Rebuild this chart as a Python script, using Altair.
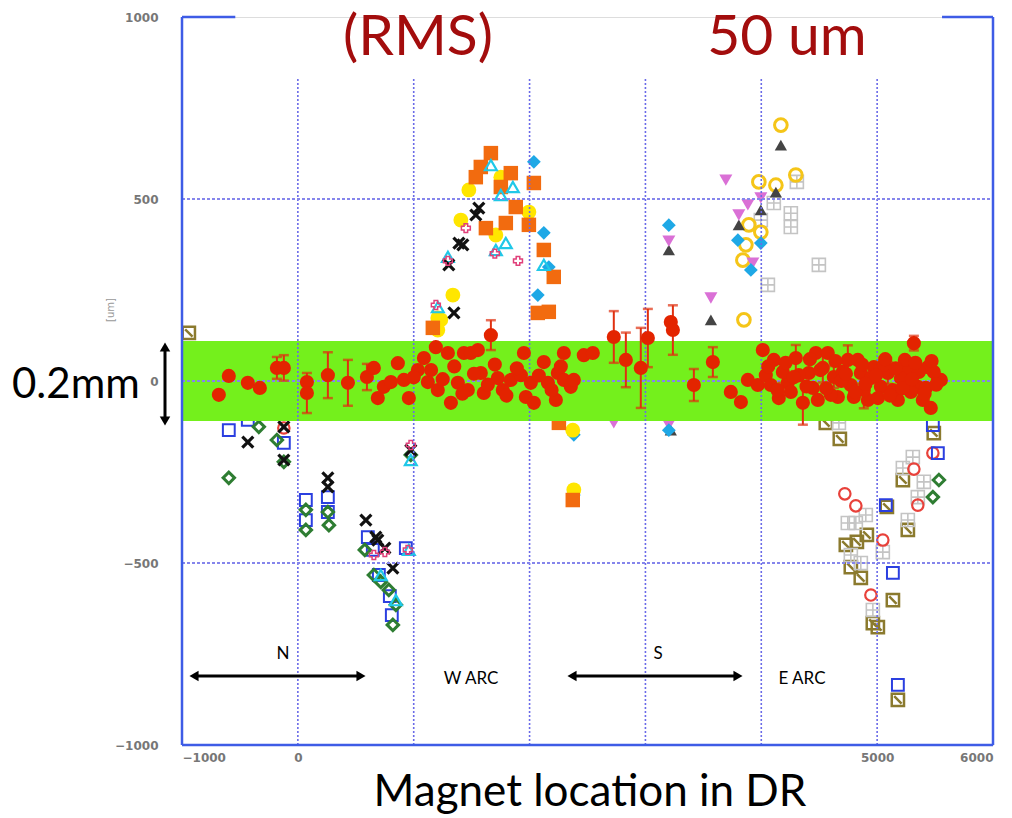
import altair as alt
import pandas as pd

# ---------------- data ----------------
# main series (red filled circles) with error bars
red_x = [-682, -596, -432, -328, -181, -121, 78, 78, 259, 432, 596, 656, 690, 742, 803, 863, 915, 958,
         1036, 1088, 1122, 1191, 1295, 1208, 1321, 1381, 1433, 1467, 1493, 1554, 1666, 1579, 1605, 1726,
         1769, 1838, 1925, 1951, 1968, 2011, 2037, 2123, 2158, 2227, 2244, 2296, 2296, 2356, 2382, 2468,
         2546, 2727, 2831, 2960, 3021, 3219, 3237, 3418, 3582, 3737, 3824, 3884,
         4013, 4108, 4151, 4229, 4298, 4359, 4410, 4471, 4488, 4574, 4626, 4661, 4747, 4799, 4859, 4920,
         4971, 5032, 5092, 5179, 5265, 5317, 5351, 5394, 5438, 5463, 5524, 5550,
         3970, 4039, 4082, 4186, 4255, 4324, 4445, 4531, 4600, 4703, 4772, 4833, 4885, 4946, 5006, 5058,
         5136, 5205, 5239, 5291, 5360, 5420, 5489,
         4060, 4140, 4210, 4280, 4390, 4420, 4510, 4560, 4640, 4690, 4730, 4810, 4870, 4900, 4990, 5070,
         5110, 5160, 5220, 5300, 5330, 5410, 5470, 5510,
         1000, 1150, 1250, 1350, 1420, 1520, 1640, 1700, 1800, 1890, 2080, 2190, 2270]
red_y = [-38, 14, -5, -19, 36, 36, -3, -33, 16, -5, 11, 36, -47, -16, -3, 49, 3, -47,
         30, 63, -3, 93, 77, -25, -60, -5, 77, -25, 77, 85, 126, 22, -33, 8,
         -25, 3, 16, 77, -44, -5, -60, 52, -5, -52, 22, 77, 3, -16, 3, 71,
         77, 121, 58, 36, 118, 162, 140, -11, 52, -30, -58, 3,
         85, 58, -47, -5, 63, -60, 22, 77, -52, 77, 11, -44, 58, -44, 22, -52,
         38, -16, 22, -52, 30, 104, -16, -52, 38, -74, 3, 3,
         -11, 16, -11, 25, -30, 16, -19, 36, -38, 25, -11, 58, -25, 8, -47, 44,
         -25, 8, 58, -30, 25, -19, 25,
         40, -25, 50, 10, -15, 60, 30, -20, 55, 0, 20, -30, 45, -8, 15, 60,
         -40, 35, -20, 5, 50, -35, 55, -10,
         10, 30, 5, 40, -35, 20, -10, 45, -40, 35, 15, -25, 40]
red_err = [0, 0, 0, 0, 30, 35, 0, 55, 63, 63, 36, 0, 0, 0, 0, 0, 0, 0,
           0, 0, 0, 0, 0, 0, 0, 0, 0, 0, 0, 0, 41, 0, 0, 0,
           0, 0, 0, 0, 0, 0, 0, 0, 0, 0, 0, 0, 0, 0, 0, 0,
           0, 71, 75, 110, 80, 0, 68, 44, 41, 0, 0, 0,
           0, 0, 0, 0, 36, 60, 0, 0, 0, 0, 30, 0, 40, 0, 30, 0,
           0, 0, 30, 0, 0, 20, 0, 0, 0, 0, 0, 0,
           0, 0, 0, 30, 0, 0, 0, 40, 0, 0, 0, 0, 50, 0, 0, 0,
           0, 0, 0, 0, 0, 0, 0,
           0, 0, 0, 0, 0, 0, 0, 0, 0, 0, 0, 0, 0, 0, 0, 0,
           0, 0, 0, 0, 0, 0, 0, 0,
           0, 0, 0, 0, 0, 0, 0, 0, 0, 0, 0, 0, 0]

olive_x = [-941, 4557, 4678, 4730, 4825, 4911, 4773, 4859, 4963, 5006, 5084, 5222, 5265, 5136, 5179, 5489]
olive_y = [132, -115, -159, -450, -442, -423, -511, -541, -665, -676, -346, -272, -409, -602, -876, -143]

grey_x = [4307, 4255, 4255, 3996, 4108, 4057, 4497, 5308, 5222, 5403, 5351, 5265, 4902, 4747, 4816, 4773, 4859, 5049, 4963, 4670]
grey_y = [547, 461, 423, 442, 489, 264, 319, -209, -239, -277, -319, -382, -368, -390, -390, -478, -500, -470, -629, -115]

redring_x = [4721, 4816, 5049, 4946, 5317, 5351, 5481, -121]
redring_y = [-310, -343, -437, -588, -242, -341, -198, -129]

bluesq_x = [-596, -432, -121, 69, 69, 259, 259, 604, 647, 699, 794, 811, 932, 5075, 5136, 5179, 5481, 5524]
bluesq_y = [-135, -107, -170, -382, -327, -319, -360, -429, -464, -533, -591, -643, -459, -341, -527, -835, -121, -198]

green_x = [-596, -337, -181, -121, 69, 69, 259, 268, 578, 656, 716, 785, 820, 846, 975, 5533, 5481]
green_y = [-266, -126, -162, -222, -354, -409, -360, -396, -464, -533, -552, -574, -670, -615, -203, -272, -319]

xblack_x = [-432, -121, -121, 259, 259, 587, 673, 690, 751, 820, 975, 1347, 1303, 1390, 1424, 1536, 1562]
xblack_y = [-168, -126, -217, -266, -291, -382, -429, -437, -459, -514, -190, 187, 319, 379, 374, 456, 475]

yellow_x = [1208, 1338, 1407, 1476, 1709, 1752, 1208, 2382, 2373, 1994, 1234]
yellow_y = [173, 236, 442, 525, 401, 560, 140, -299, -135, 464, 168]

orange_x = [1666, 1579, 1536, 1838, 1752, 2037, 1994, 1881, 1795, 1623, 2123, 2209, 2071, 2166, 1165, 2373, 2253]
orange_y = [626, 588, 560, 571, 533, 544, 429, 478, 434, 420, 360, 286, 187, 190, 146, -327, -115]

cyandia_x = [2037, 2123, 2166, 2071, 2382, 2382, 3202, 3798, 3910, 3996, 3202]
cyandia_y = [602, 407, 313, 236, -148, -313, 428, 387, 305, 379, -135]

cyantri_x = [1666, 1856, 1752, 1709, 1795, 2123, 1208, 1295, 846, 716, 958, 975]
cyantri_y = [593, 533, 511, 360, 379, 319, 203, 341, -602, -533, -464, -217]

violet_x = [3202, 3694, 3565, 3927, 3806, 2727, 3202, 3884, 3996]
violet_y = [384, 552, 228, 324, 456, -115, -121, 484, 503]

darktri_x = [3202, 4169, 3565, 3806, 4126, 3219, 3996]
darktri_y = [360, 648, 168, 429, 519, -135, 470]

goldring_x = [4169, 3867, 3841, 3893, 3996, 4126, 3979, 4298, 3850]
goldring_y = [703, 374, 332, 429, 409, 538, 547, 566, 168]

pink_x = [656, 751, 949, 975, 1191, 1295, 1450, 1700, 1900]
pink_y = [-478, -470, -464, -176, 209, 330, 420, 350, 330]

grid_x = [0, 1000, 2000, 3000, 4000, 5000]
grid_y = [-500, 0, 500]
x_tick_values = [-1000, 0, 5000, 6000]
y_tick_values = [-1000, -500, 0, 500, 1000]
band_lo, band_hi = -110, 110

XS = alt.Scale(domain=[-1000, 6000], nice=False, zero=False)
YS = alt.Scale(domain=[-1000, 1000], nice=False, zero=False)

PATH_X = "M-1,-1L1,1M1,-1L-1,1"
PATH_GRID = "M-1,-1H1V1H-1Z M0,-1V1 M-1,0H1"
PATH_HATCH = "M-1,-1H1V1H-1Z M-0.6,-0.6L0.6,0.6"


def xenc(field="x"):
    return alt.X(f"{field}:Q", scale=XS, title=None)


def yenc(field="y"):
    return alt.Y(f"{field}:Q", scale=YS, title=None)


def pts(xs, ys, shape, filled, color, size, sw=1.5, opacity=1):
    df = pd.DataFrame({"x": xs, "y": ys})
    return alt.Chart(df).mark_point(shape=shape, filled=filled, color=color, size=size,
                                    strokeWidth=sw, opacity=opacity).encode(x=xenc(), y=yenc())


# axes carrier (invisible)
axis_df = pd.DataFrame({"x": [-1000, 6000], "y": [-1000, 1000]})
lab = dict(ticks=False, domain=False, grid=False, labelColor="#777777", labelFontSize=12,
           labelFont="DejaVu Sans", labelFontWeight="bold", format="d", title=None)
axes = alt.Chart(axis_df).mark_point(opacity=0).encode(
    x=alt.X("x:Q", scale=XS, axis=alt.Axis(values=x_tick_values, labelPadding=7, **lab)),
    y=alt.Y("y:Q", scale=YS, axis=alt.Axis(values=y_tick_values, labelPadding=24, **lab)),
)

layers = [axes]
layers.append(pts(olive_x, olive_y, PATH_HATCH, False, "#8B7A2E", 150, 2.5))
layers.append(pts(grey_x, grey_y, PATH_GRID, False, "#C4C4C4", 170, 1.6))
layers.append(pts(redring_x, redring_y, "circle", False, "#E8413A", 130, 2.2))
layers.append(pts(bluesq_x, bluesq_y, "square", False, "#2B3FE0", 140, 2))
layers.append(pts(green_x, green_y, "diamond", False, "#2E7D32", 130, 3))
layers.append(pts(goldring_x, goldring_y, "circle", False, "#F5C518", 160, 3))
layers.append(pts(darktri_x, darktri_y, "triangle-up", True, "#444444", 150))
layers.append(pts(violet_x, violet_y, "triangle-down", True, "#DA70D6", 170))
layers.append(pts(cyandia_x, cyandia_y, "diamond", True, "#1EA8E6", 190))
layers.append(pts(yellow_x, yellow_y, "circle", True, "#FFE600", 220))
layers.append(pts(orange_x, orange_y, "square", True, "#F26B0F", 210))
layers.append(pts(cyantri_x, cyantri_y, "triangle-up", False, "#20C8E8", 140, 2.2))
layers.append(pts(xblack_x, xblack_y, PATH_X, False, "#111111", 120, 3.2))
layers.append(pts(pink_x, pink_y, "cross", False, "#E0407A", 80, 1.5))

# green band
band_df = pd.DataFrame({"x": [-1000], "x2": [6000], "y": [band_lo], "y2": [band_hi]})
layers.append(alt.Chart(band_df).mark_rect(color="#74F01C").encode(
    x=xenc(), x2="x2:Q", y=yenc(), y2="y2:Q"))

# grid lines
gx_df = pd.DataFrame({"x": grid_x, "y": [-1000] * len(grid_x), "y2": [830] * len(grid_x)})
layers.append(alt.Chart(gx_df).mark_rule(color="#6A6AE8", strokeWidth=1.6, strokeDash=[2, 2]).encode(
    x=xenc(), y=yenc(), y2="y2:Q"))
gy_df = pd.DataFrame({"y": grid_y, "x": [-1000] * len(grid_y), "x2": [6000] * len(grid_y)})
layers.append(alt.Chart(gy_df).mark_rule(color="#8585EC", strokeWidth=2.2, strokeDash=[3, 2]).encode(
    y=yenc(), x=xenc(), x2="x2:Q"))

# red error bars
red_df = pd.DataFrame({"x": red_x, "y": red_y, "err": red_err})
eb = alt.Chart(red_df).transform_filter("datum.err > 0").transform_calculate(
    lo="datum.y - datum.err", hi="datum.y + datum.err")
layers.append(eb.mark_rule(color="#E03010", strokeWidth=2).encode(
    x=xenc(), y=yenc("lo"), y2="hi:Q"))
layers.append(eb.mark_tick(color="#E03010", thickness=2.5, size=10, orient="horizontal").encode(
    x=xenc(), y=yenc("lo")))
layers.append(eb.mark_tick(color="#E03010", thickness=2.5, size=10, orient="horizontal").encode(
    x=xenc(), y=yenc("hi")))
layers.append(alt.Chart(red_df).mark_point(shape="circle", filled=True, color="#E32400", size=200,
                                           opacity=1).encode(x=xenc(), y=yenc()))

# frame
frame_blue = "#3E5CE6"
fv = pd.DataFrame({"x": [-1000, 6000], "y": [-1000, -1000], "y2": [1000, 1000]})
layers.append(alt.Chart(fv).mark_rule(color=frame_blue, strokeWidth=2.5).encode(x=xenc(), y=yenc(), y2="y2:Q"))
fh = pd.DataFrame({"x": [-1000, -1000, 5560], "x2": [6000, -540, 6000], "y": [-1000, 1000, 1000]})
layers.append(alt.Chart(fh).mark_rule(color=frame_blue, strokeWidth=2.5).encode(x=xenc(), x2="x2:Q", y=yenc()))


def txt(s, px, py, size, color="black", align="center", font="Lato", angle=0):
    return alt.Chart(pd.DataFrame({"t": [s]})).mark_text(
        fontSize=size, color=color, align=align, baseline="alphabetic", font=font, angle=angle).encode(
        text="t:N", x=alt.value(px), y=alt.value(py))


dark_red = "#A30D0D"
layers.append(txt("(RMS)", 236, 38, 57, dark_red))
layers.append(txt("50 um", 605, 38, 57, dark_red))
layers.append(txt("Magnet location in DR", 408, 789, 44))
layers.append(txt("0.2mm", -170, 381, 42, align="left"))
layers.append(txt("N", 101, 642, 17))
layers.append(txt("W ARC", 289, 667, 17))
layers.append(txt("S", 476, 642, 17))
layers.append(txt("E ARC", 620, 667, 17))
layers.append(txt("[um]", -68, 293, 10, color="#999999", font="DejaVu Sans", angle=270))


# arrows (annotations)
def hrule(x1, x2, y):
    return alt.Chart(pd.DataFrame({"a": [0]})).mark_rule(color="black", strokeWidth=3).encode(
        x=alt.value(x1), x2=alt.value(x2), y=alt.value(y))


def head(px, py, shape):
    return alt.Chart(pd.DataFrame({"a": [0]})).mark_point(shape=shape, filled=True, color="black",
                                                          size=110, opacity=1).encode(
        x=alt.value(px), y=alt.value(py))


layers += [hrule(12, 179, 659), head(12, 659, "triangle-left"), head(179, 659, "triangle-right")]
layers += [hrule(390, 556, 659), head(390, 659, "triangle-left"), head(556, 659, "triangle-right")]
layers.append(alt.Chart(pd.DataFrame({"a": [0]})).mark_rule(color="black", strokeWidth=3).encode(
    x=alt.value(-17), y=alt.value(330), y2=alt.value(404)))
layers += [head(-17, 330, "triangle-up"), head(-17, 404, "triangle-down")]

chart = alt.layer(*layers).properties(
    width=811, height=728,
    autosize=alt.AutoSizeParams(type="none"),
    padding={"left": 182, "top": 17, "right": 19, "bottom": 73},
).configure_view(stroke=None).configure(background="white")

chart.save("out.html", embed_options={"renderer": "svg", "actions": False})
